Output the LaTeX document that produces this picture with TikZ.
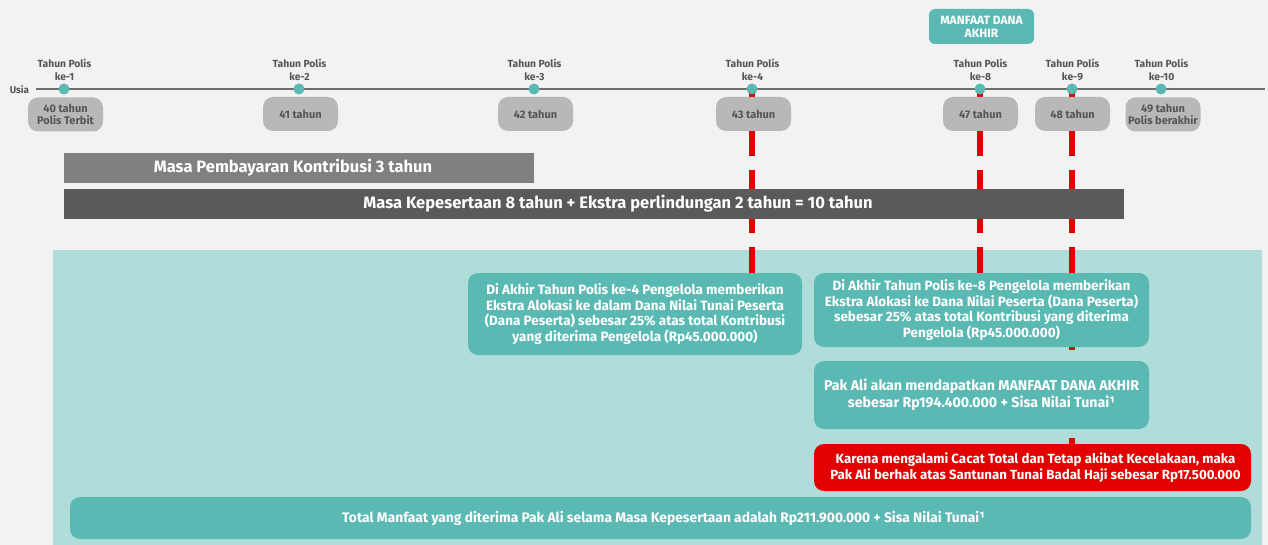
\documentclass[tikz,border=0pt]{standalone}
\usepackage{fontspec}
\setmainfont{Fira Sans}
\definecolor{bgc}{HTML}{F2F2F2}
\definecolor{region}{HTML}{B0DDD9}
\definecolor{teal1}{HTML}{5BB9B4}
\definecolor{agegray}{HTML}{B8B8B8}
\definecolor{agetext}{HTML}{555555}
\definecolor{labelgray}{HTML}{555555}
\definecolor{bar1c}{HTML}{808080}
\definecolor{bar2c}{HTML}{5A5A5A}
\definecolor{redc}{HTML}{E30000}
\definecolor{linec}{HTML}{6E6E6E}
\pgfdeclarelayer{back}
\pgfdeclarelayer{bgl}
\pgfsetlayers{back,bgl,main}
\begin{document}
\begin{tikzpicture}[x=1pt,y=-1pt,
  lbl/.style={font=\bfseries\fontsize{10.3}{13}\selectfont, text=labelgray, align=center, inner sep=0pt},
  agebox/.style={fill=agegray, rounded corners=10pt, minimum width=75pt, minimum height=34pt, font=\bfseries\fontsize{11}{12.2}\selectfont, text=agetext, align=center, inner sep=0pt},
  tdot/.style={circle, fill=teal1, minimum size=11pt, inner sep=0pt},
  tealbox/.style={fill=teal1, rounded corners=10pt, text=white, font=\bfseries\fontsize{13.5}{15.8}\selectfont, align=center, inner sep=0pt},
  redbox/.style={fill=redc, rounded corners=10pt, text=white, font=\bfseries\fontsize{13.3}{15.3}\selectfont, align=center, inner sep=0pt},
  barbox/.style={text=white, font=\bfseries\fontsize{16.5}{18}\selectfont, inner sep=0pt, minimum height=30pt},
  redline/.style={draw=redc, line width=6pt, dash pattern=on 67pt off 14pt on 63pt off 14pt on 103pt off 88pt on 30pt}
]
\useasboundingbox (0,0) rectangle (1268,545);
\begin{pgfonlayer}{back}
  \fill[bgc] (0,0) rectangle (1268,545);
  \fill[region] (53,250) rectangle (1262,545);
\end{pgfonlayer}

% timeline
\coordinate (tlstart) at (36,89);
\coordinate (tlend) at (1265,89);
\node[lbl, font=\bfseries\fontsize{9.8}{11}\selectfont] (usia) at (19.5,89.5) {Usia};
\draw[linec, line width=1.3pt] (tlstart) -- (tlend);

\foreach \n/\x/\k in {d1/64/1, d2/299/2, d3/534/3, d4/752/4, d8/980/8, d9/1072/9, d10/1161/10}{
  \node[tdot] (\n) at (\x,89) {};
  \node[lbl] (l\n) at (\x+0.5,69.5) {Tahun Polis\\ke-\k};
}

% age boxes
\node[agebox] (a1) at (65.5,114.5) {40 tahun\\Polis Terbit};
\node[agebox] (a2) at (300.5,114) {41 tahun};
\node[agebox] (a3) at (535.5,114) {42 tahun};
\node[agebox] (a4) at (753.5,114) {43 tahun};
\node[agebox] (a8) at (980.5,114) {47 tahun};
\node[agebox] (a9) at (1072.5,114) {48 tahun};
\node[agebox] (a10) at (1163,114.5) {49 tahun\\Polis berakhir};

% Manfaat dana akhir
\node[fill=teal1, rounded corners=6pt, minimum width=105pt, minimum height=35pt, text=white, font=\bfseries\fontsize{12}{13.2}\selectfont, align=center, inner sep=0pt] (mda) at (981.5,26.5) {MANFAAT DANA\\AKHIR};

% bars
\node[barbox, fill=bar1c, minimum width=470pt] (bar1) at (299,168) {\hspace*{-12pt}Masa Pembayaran Kontribusi 3 tahun};
\node[barbox, fill=bar2c, minimum width=1060pt] (bar2) at (594,204) {\hspace*{48pt}Masa Kepesertaan 8 tahun + Ekstra perlindungan 2 tahun = 10 tahun};

% boxes
\node[tealbox, minimum width=334pt, minimum height=82pt] (boxA) at (635,314) {Di Akhir Tahun Polis ke-4 Pengelola memberikan\\Ekstra Alokasi ke dalam Dana Nilai Tunai Peserta\\(Dana Peserta) sebesar 25\% atas total Kontribusi\\yang diterima Pengelola (Rp45.000.000)};
\node[tealbox, minimum width=335pt, minimum height=74pt] (boxB) at (981.5,310) {Di Akhir Tahun Polis ke-8 Pengelola memberikan\\Ekstra Alokasi ke Dana Nilai Peserta (Dana Peserta)\\sebesar 25\% atas total Kontribusi yang diterima\\Pengelola (Rp45.000.000)};
\node[tealbox, minimum width=335pt, minimum height=68pt, font=\bfseries\fontsize{14.2}{16.5}\selectfont] (boxC) at (981.5,395) {Pak Ali akan mendapatkan MANFAAT DANA AKHIR\\sebesar Rp194.400.000 + Sisa Nilai Tunai¹};
\node[redbox, minimum width=437pt, minimum height=47pt] (boxD) at (1032.5,467.5) {\hspace*{6pt}Karena mengalami Cacat Total dan Tetap akibat Kecelakaan, maka\\\hspace*{6pt}Pak Ali berhak atas Santunan Tunai Badal Haji sebesar Rp17.500.000};
\node[tealbox, minimum width=1181pt, minimum height=42pt, font=\bfseries\fontsize{13.8}{15.8}\selectfont] (boxE) at (660.5,518) {\hspace*{6pt}Total Manfaat yang diterima Pak Ali selama Masa Kepesertaan adalah Rp211.900.000 + Sisa Nilai Tunai¹};

% red dashed lines behind
\begin{pgfonlayer}{bgl}
  \draw[redline] (d4.center) -- (d4 |- boxA.north);
  \draw[redline] (d8.center) -- ([yshift=3pt]d8 |- boxB.south);
  \draw[redline] (d9.center) -- (d9 |- boxD.north);
\end{pgfonlayer}
\end{tikzpicture}
\end{document}
